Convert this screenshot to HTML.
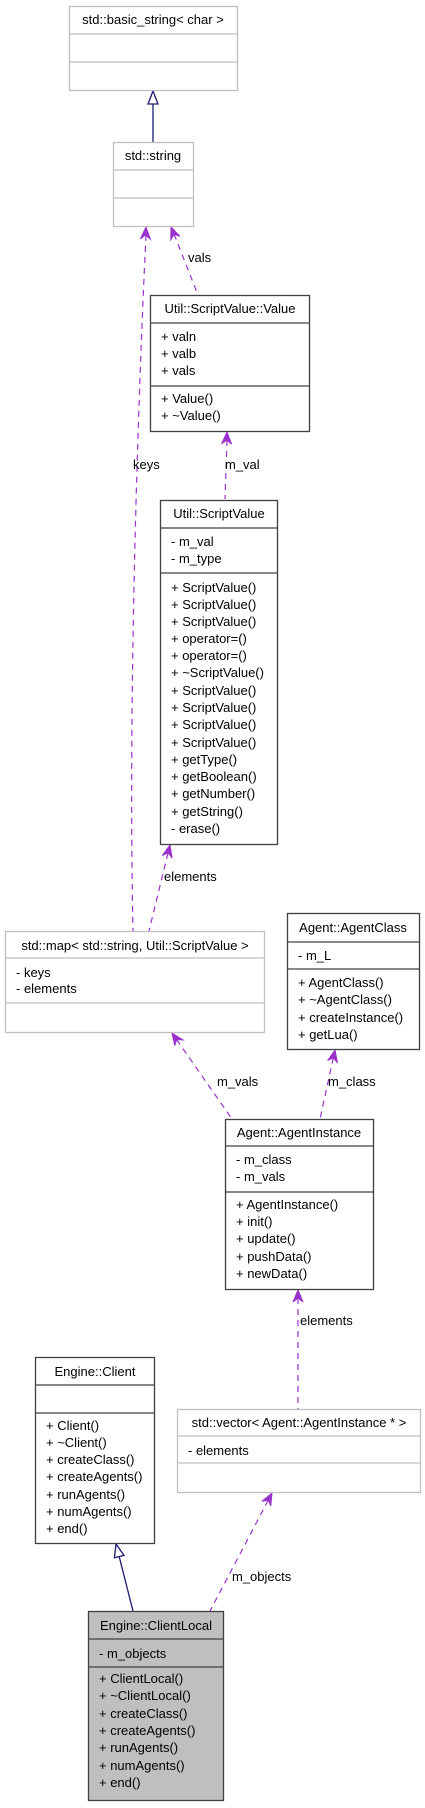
<!DOCTYPE html>
<html><head><meta charset="utf-8"><style>
html,body{margin:0;padding:0;background:#fff;}
svg{display:block;}
text{font-family:"Liberation Sans",Arial,sans-serif;font-size:13px;fill:#000;}
.g{fill:#fff;stroke:#bfbfbf;stroke-width:1.3;}
.b{fill:#fff;stroke:#404040;stroke-width:1.3;}
.f{fill:#bfbfbf;stroke:#404040;stroke-width:1.3;}
.sg{stroke:#bfbfbf;stroke-width:1.3;}
.sb{stroke:#404040;stroke-width:1.3;}
.e{fill:none;stroke:#9a32cd;stroke-width:1.2;stroke-dasharray:6,5;}
.i{fill:none;stroke:#191970;stroke-width:1.3;}
.ah{fill:#9a32cd;stroke:#9a32cd;stroke-width:1;}
.th{fill:#fff;stroke:#191970;stroke-width:1.3;}
</style></head><body>
<svg width="425" height="1808" viewBox="0 0 425 1808" xmlns="http://www.w3.org/2000/svg">

<!-- edges -->
<path class="i" d="M153,104 L153,142"/>
<polygon class="th" points="153,91 148,104 158,104"/>

<path class="e" d="M146,235 C138,400 128,700 133,931"/>
<polygon class="ah" points="146,227 150.4,239.2 145.6,235 140.4,238.8"/>
<text x="133" y="469">keys</text>

<path class="e" d="M174,234 L198,295"/>
<polygon class="ah" points="171,227 180,236.3 174,234.4 170.8,239.9"/>
<text x="188" y="262">vals</text>

<path class="e" d="M227,440 L225,499"/>
<polygon class="ah" points="227,432 231.6,444.1 226.8,440 221.6,443.9"/>
<text x="225" y="469">m_val</text>

<path class="e" d="M168,853 L149,931"/>
<polygon class="ah" points="170,845 172.1,857.9 168.1,852.8 162.3,855.5"/>
<text x="164" y="881">elements</text>

<path class="e" d="M176.6,1039.6 L232,1119"/>
<polygon class="ah" points="172,1033 183,1039.9 176.6,1039.6 174.8,1045.7"/>
<text x="217" y="1086">m_vals</text>

<path class="e" d="M333.3,1057.8 L320,1119"/>
<polygon class="ah" points="335,1050 337.4,1062.8 333.3,1057.8 327.6,1060.6"/>
<text x="328" y="1086">m_class</text>

<path class="e" d="M298,1298 L298,1409"/>
<polygon class="ah" points="298,1290 303,1302 298,1298 293,1302"/>
<text x="300" y="1325">elements</text>

<path class="e" d="M268.3,1500.1 L210,1611"/>
<polygon class="ah" points="272,1493 270.8,1505.9 268.3,1500.1 262,1501.3"/>
<text x="232" y="1581">m_objects</text>

<path class="i" d="M119.2,1556.6 L133,1611"/>
<polygon class="th" points="116,1544 124,1555.4 114.4,1557.8"/>

<!-- basic_string -->
<rect class="g" x="69.5" y="6.5" width="168" height="84"/>
<line class="sg" x1="69.5" y1="34" x2="237.5" y2="34"/><line class="sg" x1="69.5" y1="62" x2="237.5" y2="62"/>
<text x="153" y="24" text-anchor="middle">std::basic_string&lt; char &gt;</text>

<!-- std::string -->
<rect class="g" x="113.5" y="142.5" width="80" height="84"/>
<line class="sg" x1="113.5" y1="170" x2="193.5" y2="170"/><line class="sg" x1="113.5" y1="198" x2="193.5" y2="198"/>
<text x="153" y="160" text-anchor="middle">std::string</text>

<!-- Value -->
<rect class="b" x="150.5" y="295.5" width="159" height="136"/>
<line class="sb" x1="150.5" y1="323" x2="309.5" y2="323"/><line class="sb" x1="150.5" y1="386" x2="309.5" y2="386"/>
<text x="230" y="313" text-anchor="middle">Util::ScriptValue::Value</text>
<text x="161" y="341">+ valn</text><text x="161" y="358">+ valb</text><text x="161" y="375">+ vals</text>
<text x="161" y="403">+ Value()</text><text x="161" y="420">+ ~Value()</text>

<!-- ScriptValue -->
<rect class="b" x="160.5" y="500.5" width="117" height="344"/>
<line class="sb" x1="160.5" y1="528" x2="277.5" y2="528"/><line class="sb" x1="160.5" y1="573" x2="277.5" y2="573"/>
<text x="219" y="518" text-anchor="middle">Util::ScriptValue</text>
<text x="171" y="546">- m_val</text><text x="171" y="563">- m_type</text>
<text x="171" y="592">+ ScriptValue()</text>
<text x="171" y="609">+ ScriptValue()</text>
<text x="171" y="626">+ ScriptValue()</text>
<text x="171" y="643">+ operator=()</text>
<text x="171" y="660">+ operator=()</text>
<text x="171" y="677">+ ~ScriptValue()</text>
<text x="171" y="695">+ ScriptValue()</text>
<text x="171" y="712">+ ScriptValue()</text>
<text x="171" y="729">+ ScriptValue()</text>
<text x="171" y="747">+ ScriptValue()</text>
<text x="171" y="764">+ getType()</text>
<text x="171" y="781">+ getBoolean()</text>
<text x="171" y="798">+ getNumber()</text>
<text x="171" y="816">+ getString()</text>
<text x="171" y="833">- erase()</text>

<!-- map -->
<rect class="g" x="5.5" y="931.5" width="259" height="101"/>
<line class="sg" x1="5.5" y1="958" x2="264.5" y2="958"/><line class="sg" x1="5.5" y1="1003" x2="264.5" y2="1003"/>
<text x="135" y="950" text-anchor="middle">std::map&lt; std::string, Util::ScriptValue &gt;</text>
<text x="16" y="977">- keys</text><text x="16" y="993">- elements</text>

<!-- AgentClass -->
<rect class="b" x="287.5" y="913.5" width="132" height="136"/>
<line class="sb" x1="287.5" y1="942" x2="419.5" y2="942"/><line class="sb" x1="287.5" y1="969" x2="419.5" y2="969"/>
<text x="353" y="932" text-anchor="middle">Agent::AgentClass</text>
<text x="298" y="960">- m_L</text>
<text x="298" y="987">+ AgentClass()</text>
<text x="298" y="1004">+ ~AgentClass()</text>
<text x="298" y="1022">+ createInstance()</text>
<text x="298" y="1039">+ getLua()</text>

<!-- AgentInstance -->
<rect class="b" x="225.5" y="1119.5" width="148" height="170"/>
<line class="sb" x1="225.5" y1="1146" x2="373.5" y2="1146"/><line class="sb" x1="225.5" y1="1192" x2="373.5" y2="1192"/>
<text x="299" y="1137" text-anchor="middle">Agent::AgentInstance</text>
<text x="236" y="1164">- m_class</text><text x="236" y="1181">- m_vals</text>
<text x="236" y="1209">+ AgentInstance()</text>
<text x="236" y="1226">+ init()</text>
<text x="236" y="1243">+ update()</text>
<text x="236" y="1261">+ pushData()</text>
<text x="236" y="1278">+ newData()</text>

<!-- Client -->
<rect class="b" x="35.5" y="1357.5" width="119" height="186"/>
<line class="sb" x1="35.5" y1="1385" x2="154.5" y2="1385"/><line class="sb" x1="35.5" y1="1413" x2="154.5" y2="1413"/>
<text x="95" y="1376" text-anchor="middle">Engine::Client</text>
<text x="46" y="1430">+ Client()</text>
<text x="46" y="1447">+ ~Client()</text>
<text x="46" y="1464">+ createClass()</text>
<text x="46" y="1481">+ createAgents()</text>
<text x="46" y="1499">+ runAgents()</text>
<text x="46" y="1516">+ numAgents()</text>
<text x="46" y="1533">+ end()</text>

<!-- vector -->
<rect class="g" x="177.5" y="1409.5" width="243" height="83"/>
<line class="sg" x1="177.5" y1="1436" x2="420.5" y2="1436"/><line class="sg" x1="177.5" y1="1463" x2="420.5" y2="1463"/>
<text x="299" y="1427" text-anchor="middle">std::vector&lt; Agent::AgentInstance * &gt;</text>
<text x="188" y="1455">- elements</text>

<!-- ClientLocal -->
<rect class="f" x="88.5" y="1611.5" width="135" height="189"/>
<line class="sb" x1="88.5" y1="1639" x2="223.5" y2="1639"/><line class="sb" x1="88.5" y1="1667" x2="223.5" y2="1667"/>
<text x="156" y="1630" text-anchor="middle">Engine::ClientLocal</text>
<text x="99" y="1658">- m_objects</text>
<text x="99" y="1683">+ ClientLocal()</text>
<text x="99" y="1700">+ ~ClientLocal()</text>
<text x="99" y="1718">+ createClass()</text>
<text x="99" y="1735">+ createAgents()</text>
<text x="99" y="1752">+ runAgents()</text>
<text x="99" y="1770">+ numAgents()</text>
<text x="99" y="1787">+ end()</text>
</svg>
</body></html>
